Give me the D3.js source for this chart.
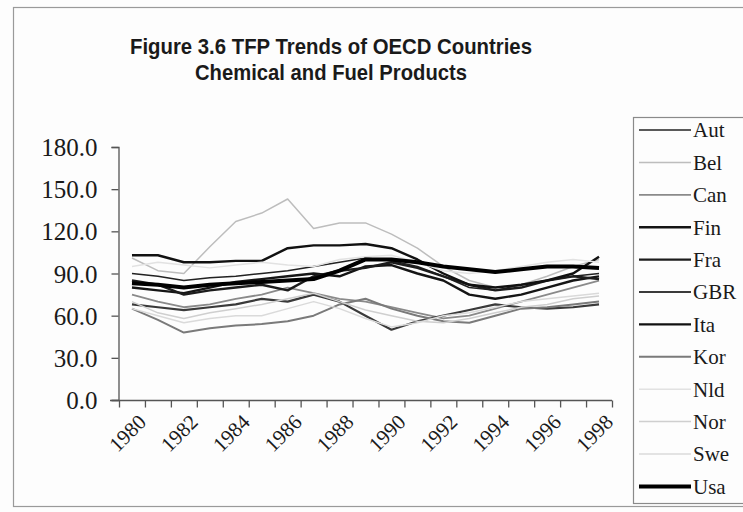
<!DOCTYPE html>
<html>
<head>
<meta charset="utf-8">
<script src="https://cdn.jsdelivr.net/npm/d3@7"></script>
<style>
  html, body { margin: 0; padding: 0; background: #fdfdfd; }
  svg { display: block; }
  .serif { font-family: "Liberation Serif", "Times New Roman", serif; fill: #1a1a1a; }
  .title { font-family: "Liberation Sans Narrow", "Arial Narrow", "Liberation Sans", Arial, sans-serif; font-weight: bold; fill: #1a1a1a; }
</style>
</head>
<body>
<svg id="chart" width="743" height="512"></svg>
<script>
// Years on the category axis
const years = d3.range(1980, 1999).map(String);
const yearLabels = ["1980","1982","1984","1986","1988","1990","1992","1994","1996","1998"];
const yTicks = [0, 30, 60, 90, 120, 150, 180];

// TFP index by country, 1980-1998
const aut = [90, 88, 85, 87, 88, 90, 92, 95, 98, 101, 99, 95, 88, 80, 78, 82, 85, 88, 90];
const bel = [101, 92, 90, 109, 127, 133, 143, 122, 126, 126, 118, 108, 95, 85, 80, 82, 88, 95, 100];
const can = [75, 70, 66, 68, 72, 75, 80, 76, 72, 70, 66, 62, 58, 60, 65, 70, 75, 80, 85];
const fin = [80, 78, 76, 80, 84, 86, 88, 90, 88, 95, 96, 90, 85, 75, 72, 75, 80, 85, 88];
const fra = [85, 82, 75, 78, 80, 82, 78, 88, 92, 94, 98, 94, 88, 82, 78, 80, 85, 88, 86];
const gbr = [68, 66, 64, 66, 68, 72, 70, 75, 70, 60, 50, 56, 60, 64, 68, 66, 65, 66, 68];
const ita = [103, 103, 98, 98, 99, 99, 108, 110, 110, 111, 108, 100, 90, 82, 80, 82, 85, 90, 102];
const kor = [65, 57, 48, 51, 53, 54, 56, 60, 68, 72, 65, 60, 56, 55, 60, 65, 66, 68, 70];
const nld = [95, 98, 96, 94, 96, 98, 96, 95, 100, 102, 103, 98, 92, 90, 92, 95, 98, 100, 98];
const nor = [70, 62, 58, 62, 65, 68, 72, 76, 70, 64, 60, 56, 55, 58, 62, 66, 68, 72, 74];
const swe = [65, 60, 55, 58, 60, 60, 65, 70, 65, 58, 52, 55, 60, 62, 66, 70, 72, 74, 76];
const usa = [83, 82, 80, 82, 83, 84, 85, 86, 92, 100, 100, 98, 95, 93, 91, 93, 95, 95, 94];

const countries = ["Aut","Bel","Can","Fin","Fra","GBR","Ita","Kor","Nld","Nor","Swe","Usa"];
const seriesValues = [aut, bel, can, fin, fra, gbr, ita, kor, nld, nor, swe, usa];
const lineColors = ["#222","#bdbdbd","#8a8a8a","#151515","#1c1c1c","#3a3a3a","#111","#7a7a7a","#e2e2e2","#cfcfcf","#dadada","#000"];
const lineWidths = [1.5, 1.5, 1.8, 2.4, 2.4, 2.2, 2.4, 2, 1.5, 1.5, 1.5, 4];

const svg = d3.select("#chart");

// Outer frame
svg.append("rect").attr("x", 13.5).attr("y", 7.5).attr("width", 740).attr("height", 499)
  .attr("fill", "#fdfdfd").attr("stroke", "#9a9a9a").attr("stroke-width", 1.2);

// Title
svg.append("text").attr("class", "title").attr("x", 331).attr("y", 54)
  .attr("text-anchor", "middle").attr("font-size", 22)
  .attr("textLength", 402).attr("lengthAdjust", "spacingAndGlyphs")
  .text("Figure 3.6 TFP Trends of OECD Countries");
svg.append("text").attr("class", "title").attr("x", 331).attr("y", 80)
  .attr("text-anchor", "middle").attr("font-size", 22)
  .attr("textLength", 272).attr("lengthAdjust", "spacingAndGlyphs")
  .text("Chemical and Fuel Products");

// Scales
const x = d3.scaleBand().domain(years).range([119, 612]).paddingInner(0).paddingOuter(0);
const xEdge = d3.scaleLinear().domain([0, years.length]).range([119, 612]);
const y = d3.scaleLinear().domain([0, 180]).range([400, 147]);

// Y axis
const yAxis = svg.append("g").attr("transform", "translate(118.5,0)")
  .call(d3.axisLeft(y).tickValues(yTicks).tickFormat(d3.format(".1f")).tickSize(7).tickPadding(14));
yAxis.select(".domain").attr("stroke", "#555").attr("stroke-width", 1.3);
yAxis.selectAll(".tick line").attr("stroke", "#555").attr("stroke-width", 1.3);
yAxis.selectAll(".tick text").attr("class", "serif").attr("font-size", 25).attr("fill", "#1a1a1a")
  .attr("dy", "0.34em");

// X axis (ticks between categories)
const xAxis = svg.append("g").attr("transform", "translate(0,400.5)")
  .call(d3.axisBottom(xEdge).tickValues(d3.range(0, years.length + 1)).tickFormat("").tickSize(7).tickSizeOuter(0));
xAxis.select(".domain").attr("stroke", "#555").attr("stroke-width", 1.3)
  .attr("d", "M110,0H612");
xAxis.selectAll(".tick line").attr("stroke", "#555").attr("stroke-width", 1.3);

// Rotated year labels
svg.append("g").selectAll("text").data(yearLabels).join("text")
  .attr("class", "serif").attr("font-size", 21).attr("text-anchor", "end")
  .attr("transform", d => `translate(${x(d) + x.bandwidth() / 2 + 5},${413}) rotate(-45)`)
  .attr("dy", "0.7em")
  .text(d => d);

// Series lines
const line = d3.line()
  .x((d, i) => x(years[i]) + x.bandwidth() / 2)
  .y(d => y(d));

svg.append("g").selectAll("path").data(seriesValues).join("path")
  .attr("fill", "none")
  .attr("stroke", (d, i) => lineColors[i])
  .attr("stroke-width", (d, i) => lineWidths[i])
  .attr("stroke-linejoin", "round")
  .attr("d", line);

// Legend
svg.append("rect").attr("x", 633.5).attr("y", 117.5).attr("width", 120).attr("height", 386)
  .attr("fill", "#fdfdfd").attr("stroke", "#8a8a8a").attr("stroke-width", 1.2);
const leg = svg.append("g").selectAll("g").data(countries).join("g")
  .attr("transform", (d, i) => `translate(0,${130 + i * 32.4})`);
leg.append("line").attr("x1", 639).attr("x2", 691).attr("y1", 0).attr("y2", 0)
  .attr("stroke", (d, i) => lineColors[i])
  .attr("stroke-width", (d, i) => lineWidths[i]);
leg.append("text").attr("class", "serif").attr("x", 693).attr("y", 0).attr("dy", "0.35em")
  .attr("font-size", 21).text(d => d);
</script>
</body>
</html>
